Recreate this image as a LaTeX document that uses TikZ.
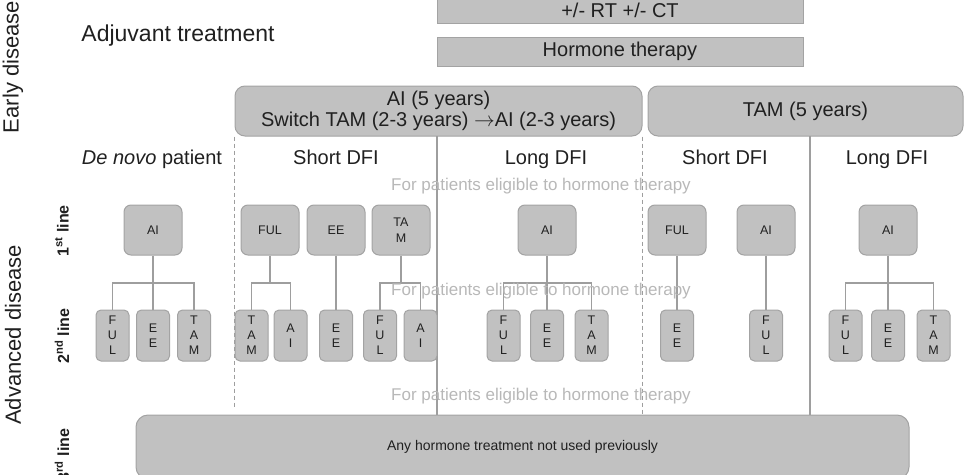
\documentclass[tikz,border=0pt]{standalone}
\usepackage{fontspec}
\setmainfont{Liberation Sans}
\usepackage{xcolor}
\definecolor{cBox}{RGB}{193,193,193}
\definecolor{cEdge}{RGB}{163,163,163}
\definecolor{cLine}{RGB}{158,158,158}
\definecolor{cNote}{RGB}{184,184,184}
\definecolor{cText}{RGB}{32,32,32}
\newcommand{\pxsize}[1]{\fontsize{#1}{#1}\selectfont}
\usetikzlibrary{positioning}

\begin{document}
\begin{tikzpicture}[x=1pt, y=-1pt, text=cText,
    box/.style={draw=cEdge, fill=cBox, line width=1pt, inner sep=0pt, align=center},
    bigbox/.style={box, rounded corners=10pt, minimum height=50pt, font=\fontsize{20}{21}\selectfont},
    firstbox/.style={box, rounded corners=7pt, minimum width=58pt, minimum height=50pt, font=\fontsize{12.5}{16}\selectfont},
    secbox/.style={box, rounded corners=5pt, minimum width=33pt, minimum height=51pt, font=\fontsize{12.5}{15}\selectfont},
    conn/.style={cLine, line width=1.3pt},
    divsolid/.style={cLine, line width=1.2pt},
    divdash/.style={cLine, line width=1.2pt, dash pattern=on 4pt off 3pt},
    head/.style={anchor=base, font=\pxsize{20}},
    note/.style={anchor=base, text=cNote, font=\pxsize{17}},
    rowlab/.style={rotate=90, font=\bfseries\pxsize{16}}]
    \def\yb{283}   % bracket level between 1st and 2nd line
    \clip (0,0) rectangle (964,474);

    % ---------- early disease ----------
    \node[rotate=90, font=\pxsize{22}] (early) at (13,67) {Early disease};
    \node[anchor=base, font=\pxsize{23}] (adj) at (178,41) {Adjuvant treatment};
    \node[box, minimum width=366pt, minimum height=26pt, font=\pxsize{20}] (rtct) at (620,10) {+/- RT +/- CT};
    \node[box, minimum width=366pt, minimum height=29pt, font=\pxsize{20}] (hormone) at (620,51.5) {Hormone therapy};
    \node[bigbox, minimum width=407pt] (aifive) at (438.5,111)
      {AI (5 years)\\Switch TAM (2-3 years) $\rightarrow$AI (2-3 years)};
    \node[bigbox, minimum width=315pt] (tamfive) at (805.5,111) {TAM (5 years)};

    % ---------- column dividers ----------
    \draw[divdash] (aifive.south west) -- ++(0,272);
    \draw[divsolid] (437,136) -- (437,415);
    \draw[divdash] (aifive.south east) -- ++(0,279);
    \draw[divsolid] (810,136) -- (810,415);

    % ---------- column heads ----------
    \node[head] (hdn) at (152,164) {\textit{De novo} patient};
    \node[head] (hsa) at (336,164) {Short DFI};
    \node[head] (hla) at (546,164) {Long DFI};
    \node[head] (hts) at (725,164) {Short DFI};
    \node[head] (htl) at (887,164) {Long DFI};

    % ---------- advanced disease ----------
    \node[rotate=90, font=\pxsize{22}] (adv) at (13,335) {Advanced disease};
    \node[rowlab] (row1) at (62,231) {1\textsuperscript{st} line};
    \node[rowlab] (row2) at (62,336) {2\textsuperscript{nd} line};
    \node[rowlab] (row3) at (62,455) {3\textsuperscript{rd} line};

    % 1st line
    \node[firstbox] (dn1) at (153,230) {AI};
    \node[firstbox] (sa1) at (270,230) {FUL};
    \node[firstbox] (sb1) at (336,230) {EE};
    \node[firstbox] (sc1) at (401,230) {TA\\M};
    \node[firstbox] (la1) at (547,230) {AI};
    \node[firstbox] (ts1) at (677,230) {FUL};
    \node[firstbox] (tt1) at (766,230) {AI};
    \node[firstbox] (tl1) at (888,230) {AI};

    % 2nd line
    \node[secbox] (dn2a) at (112.5,335.5) {F\\U\\L};
    \node[secbox] (dn2b) at (153,335.5) {E\\E};
    \node[secbox] (dn2c) at (194,335.5) {T\\A\\M};
    \node[secbox] (sa2a) at (251.5,335.5) {T\\A\\M};
    \node[secbox] (sa2b) at (290.5,335.5) {A\\I};
    \node[secbox] (sb2) at (336,335.5) {E\\E};
    \node[secbox] (sc2a) at (380,335.5) {F\\U\\L};
    \node[secbox] (sc2b) at (420.5,335.5) {A\\I};
    \node[secbox] (la2a) at (503.5,335.5) {F\\U\\L};
    \node[secbox] (la2b) at (547,335.5) {E\\E};
    \node[secbox] (la2c) at (591.5,335.5) {T\\A\\M};
    \node[secbox] (ts2) at (677,335.5) {E\\E};
    \node[secbox] (tt2) at (766,335.5) {F\\U\\L};
    \node[secbox] (tl2a) at (845.5,335.5) {F\\U\\L};
    \node[secbox] (tl2b) at (888,335.5) {E\\E};
    \node[secbox] (tl2c) at (933.5,335.5) {T\\A\\M};

    % connectors
    \draw[conn] (dn1) -- (dn2b);
    \draw[conn] (dn2a.north) |- (dn2c.north |- 0,\yb) -- (dn2c.north);
    \draw[conn] (sa1.south) -- (sa1.south |- 0,\yb);
    \draw[conn] (sa2a.north) |- (sa2b.north |- 0,\yb) -- (sa2b.north);
    \draw[conn] (sb1) -- (sb2);
    \draw[conn] (sc1.south) -- (sc1.south |- 0,\yb);
    \draw[conn] (sc2a.north) |- (sc2b.north |- 0,\yb) -- (sc2b.north);
    \draw[conn] (la1) -- (la2b);
    \draw[conn] (la2a.north) |- (la2c.north |- 0,\yb) -- (la2c.north);
    \draw[conn] (ts1) -- (ts2);
    \draw[conn] (tt1) -- (tt2);
    \draw[conn] (tl1) -- (tl2b);
    \draw[conn] (tl2a.north) |- (tl2c.north |- 0,\yb) -- (tl2c.north);

    % 3rd line
    \node[box, rounded corners=12pt, minimum width=773pt, minimum height=64pt, font=\pxsize{14}] (any) at (522.5,447)
      {Any hormone treatment not used previously};

    % ---------- eligibility notes ----------
    \node[note] (note1) at (541,190) {For patients eligible to hormone therapy};
    \node[note] (note2) at (541,295) {For patients eligible to hormone therapy};
    \node[note] (note3) at (541,400) {For patients eligible to hormone therapy};

\end{tikzpicture}
\end{document}
